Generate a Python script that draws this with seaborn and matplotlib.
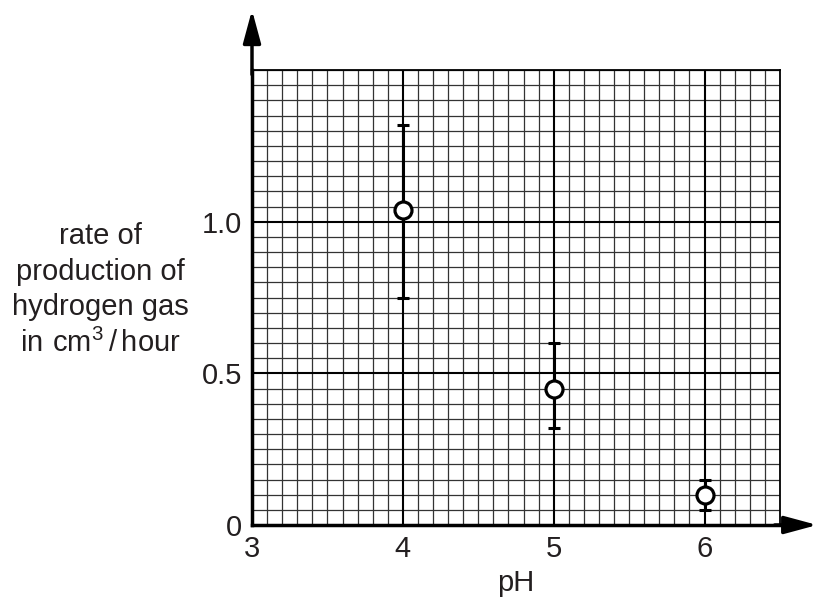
import matplotlib
matplotlib.use("Agg")
import matplotlib.pyplot as plt
import seaborn as sns
import numpy as np
import pandas as pd

ph = [4, 5, 6]
rate = [1.04, 0.45, 0.10]
rate_low = [0.75, 0.32, 0.05]
rate_high = [1.32, 0.60, 0.15]

x_ticks = [3, 4, 5, 6]
y_ticks = [0, 0.5, 1.0]
y_tick_labels = ["0", "0.5", "1.0"]

sns.set_theme(style="white")
plt.rcParams['font.family'] = ['Liberation Sans', 'DejaVu Sans']
plt.rcParams['mathtext.fontset'] = 'custom'
plt.rcParams['mathtext.rm'] = 'Liberation Sans'

TXT = '#231f20'
FS = 21

fig = plt.figure(figsize=(8.18, 5.97), dpi=100)
ax = fig.add_axes([252/818, 72/597, 528/818, 455/597])

ax.set_xlim(3, 6.5)
ax.set_ylim(0, 1.5)

# grid
ax.set_xticks(np.arange(3, 6.5001, 0.1), minor=True)
ax.set_yticks(np.arange(0, 1.5001, 0.05), minor=True)
ax.grid(which='minor', color='#333333', linewidth=0.9)
for xv in [4, 5, 6]:
    ax.axvline(xv, color='black', linewidth=1.5, zorder=1)
for yv in [0.5, 1.0]:
    ax.axhline(yv, color='black', linewidth=1.5, zorder=1)

df = pd.DataFrame({"pH": ph, "rate": rate})
err = [np.array(rate) - np.array(rate_low), np.array(rate_high) - np.array(rate)]
ax.errorbar(ph, rate, yerr=err, fmt='none', ecolor='black', elinewidth=2.2,
            capsize=4, capthick=2.2, zorder=3)
sns.scatterplot(data=df, x="pH", y="rate", ax=ax, s=150, marker='o',
                facecolor='white', edgecolor='black', linewidth=2.3, zorder=4)

ax.set_xticks(x_ticks)
ax.set_xticklabels([str(v) for v in x_ticks])
ax.set_yticks(y_ticks)
ax.set_yticklabels(y_tick_labels)
ax.tick_params(axis='x', which='major', direction='out', length=6, width=2.2,
               labelsize=FS, color='black', labelcolor=TXT, pad=1)
ax.tick_params(axis='y', which='major', direction='out', length=6, width=2.2,
               labelsize=FS, color='black', labelcolor=TXT, pad=1)
ax.tick_params(which='minor', length=0)

for s in ['left', 'bottom']:
    ax.spines[s].set_linewidth(2.5)
    ax.spines[s].set_color('black')
for s in ['top', 'right']:
    ax.spines[s].set_linewidth(1.3)
    ax.spines[s].set_color('black')

# arrows
astyle = '-|>,head_width=0.27,head_length=1.0'
ax.annotate('', xy=(0, (525 - 10) / 455), xytext=(0, 0.99), xycoords='axes fraction',
            arrowprops=dict(arrowstyle=astyle, mutation_scale=20,
                            color='black', lw=2.5, shrinkA=0, shrinkB=0),
            annotation_clip=False)
ax.annotate('', xy=(1.0705, 0), xytext=(0.99, 0), xycoords='axes fraction',
            arrowprops=dict(arrowstyle=astyle, mutation_scale=20,
                            color='black', lw=2.5, shrinkA=0, shrinkB=0),
            annotation_clip=False)

ax.set_xlabel("")
ax.set_ylabel("")
fig.text(516/818, 1 - 583/597, "pH", ha='center', va='center', fontsize=FS, color=TXT)
fig.text(100/818, 1 - 290/597,
         "rate of\nproduction of\nhydrogen gas\n$\\mathregular{in\\ cm^{3}\\,/\\,hour}$",
         ha='center', va='center', fontsize=FS, color=TXT, linespacing=1.33)

fig.savefig("out.png", dpi=100)
